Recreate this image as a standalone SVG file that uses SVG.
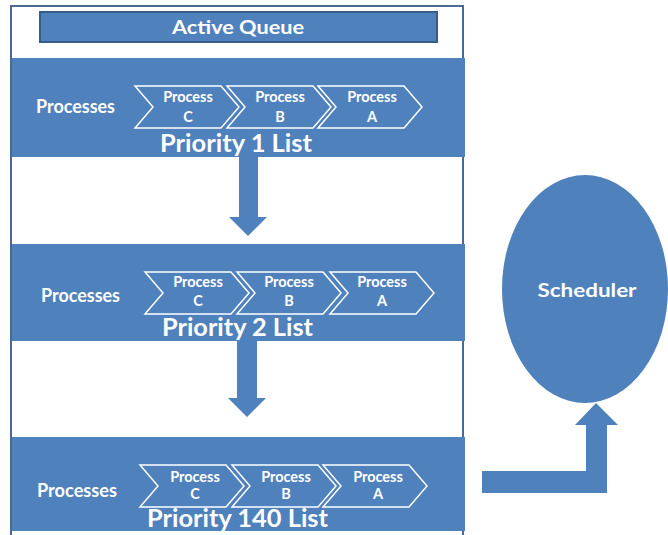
<svg xmlns="http://www.w3.org/2000/svg" width="668" height="535" viewBox="0 0 668 535">
  <defs>
    <style>
      .band { fill: #4f81bd; }
      .chev { fill: #4f81bd; stroke: #ffffff; stroke-width: 1.5; stroke-linejoin: miter; }
      .txt { font-family: Lato, "Liberation Sans", sans-serif; font-weight: 700; fill: #ffffff; }
      .lbl { font-size: 18px; }
      .proc { font-size: 14.5px; text-anchor: middle; }
      .prio { font-size: 24px; }
      .arrow { fill: #4f81bd; }
    </style>
    <!-- one chevron step, anchored at its top-left corner -->
    <path id="chevron" class="chev" d="M0,0 H86 L104,21 L86,42 H0 L18,21 Z"/>
  </defs>

  <rect width="668" height="535" fill="#ffffff"/>

  <!-- queue frame -->
  <g id="active-queue">
    <rect x="11" y="6" width="452" height="540" fill="#ffffff" stroke="#4a6a93" stroke-width="2"/>
    <rect x="40" y="12" width="397" height="30" fill="#4f81bd" stroke="#385d8a" stroke-width="2"/>
    <text class="txt" x="238" y="34" font-size="19" text-anchor="middle" textLength="132" lengthAdjust="spacingAndGlyphs">Active Queue</text>
  </g>

  <!-- priority 1 -->
  <g id="priority-1">
    <rect class="band" x="12" y="58" width="453" height="99"/>
    <text class="txt lbl" x="36" y="113" textLength="79" lengthAdjust="spacingAndGlyphs">Processes</text>
    <use href="#chevron" x="135" y="86"/>
    <use href="#chevron" x="227" y="86"/>
    <use href="#chevron" x="318" y="86"/>
    <text class="txt proc" x="188" y="102">Process</text>
    <text class="txt proc" x="188" y="122">C</text>
    <text class="txt proc" x="280" y="102">Process</text>
    <text class="txt proc" x="280" y="122">B</text>
    <text class="txt proc" x="372" y="102">Process</text>
    <text class="txt proc" x="372" y="122">A</text>
    <text class="txt prio" x="160" y="152" textLength="152" lengthAdjust="spacingAndGlyphs">Priority 1 List</text>
  </g>

  <!-- priority 2 -->
  <g id="priority-2">
    <rect class="band" x="12" y="244" width="453" height="97"/>
    <text class="txt lbl" x="41" y="302" textLength="79" lengthAdjust="spacingAndGlyphs">Processes</text>
    <use href="#chevron" x="145" y="272"/>
    <use href="#chevron" x="237" y="272"/>
    <use href="#chevron" x="330" y="272"/>
    <text class="txt proc" x="198" y="287">Process</text>
    <text class="txt proc" x="198" y="306">C</text>
    <text class="txt proc" x="289" y="287">Process</text>
    <text class="txt proc" x="289" y="306">B</text>
    <text class="txt proc" x="382" y="287">Process</text>
    <text class="txt proc" x="382" y="306">A</text>
    <text class="txt prio" x="162" y="336" textLength="151" lengthAdjust="spacingAndGlyphs">Priority 2 List</text>
  </g>

  <!-- priority 140 -->
  <g id="priority-140">
    <rect class="band" x="12" y="437" width="453" height="94"/>
    <text class="txt lbl" x="37" y="497" textLength="80" lengthAdjust="spacingAndGlyphs">Processes</text>
    <use href="#chevron" x="140" y="465"/>
    <use href="#chevron" x="232" y="465"/>
    <use href="#chevron" x="323" y="465"/>
    <text class="txt proc" x="195" y="482">Process</text>
    <text class="txt proc" x="195" y="499">C</text>
    <text class="txt proc" x="286" y="482">Process</text>
    <text class="txt proc" x="286" y="499">B</text>
    <text class="txt proc" x="378" y="482">Process</text>
    <text class="txt proc" x="378" y="499">A</text>
    <text class="txt prio" x="147" y="527" textLength="181" lengthAdjust="spacingAndGlyphs">Priority 140 List</text>
  </g>

  <!-- scheduler -->
  <g id="scheduler">
    <ellipse cx="585" cy="289" rx="83" ry="114" fill="#4f81bd"/>
    <text class="txt" x="587" y="297" font-size="19" text-anchor="middle" textLength="99" lengthAdjust="spacingAndGlyphs">Scheduler</text>
  </g>

  <!-- block arrows -->
  <g id="connectors">
    <polygon class="arrow" points="239,157 258,157 258,217 267,217 248,236 229,217 239,217"/>
    <polygon class="arrow" points="237,341 257,341 257,398 266,398 247,417 228,398 237,398"/>
    <polygon class="arrow" points="482,471 586,471 586,425 575,425 596,403 618,425 607,425 607,493 482,493"/>
  </g>
</svg>
